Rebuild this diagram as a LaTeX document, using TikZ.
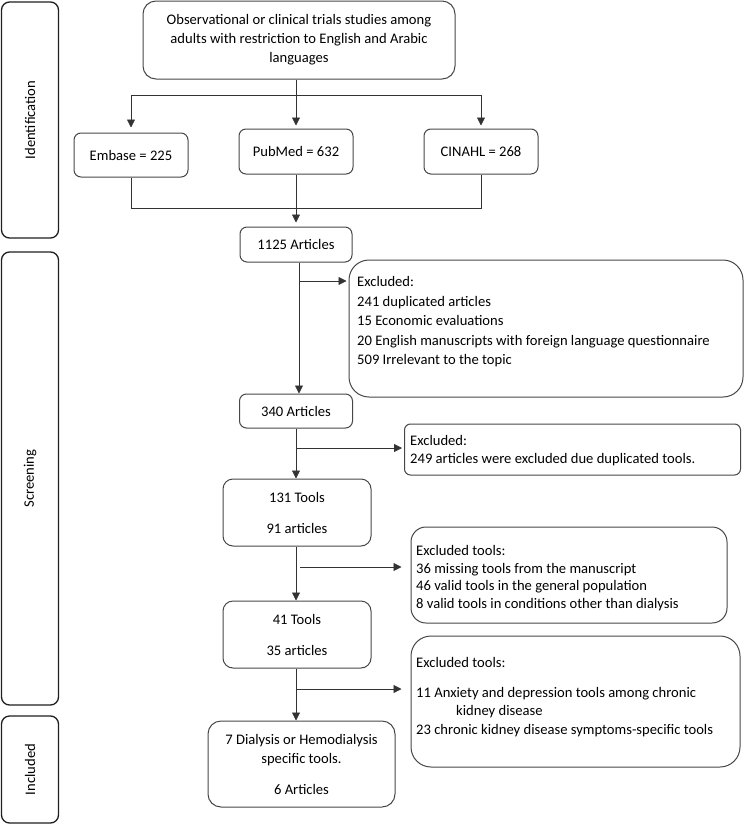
\documentclass[tikz,border=0pt]{standalone}
\usepackage{fontspec}
\setmainfont{Carlito}
\usetikzlibrary{arrows.meta}
\begin{document}
\begin{tikzpicture}[x=1pt,y=-1pt,
  box/.style={draw=black!72, line width=1pt, rounded corners=#1, inner sep=0pt, align=center, font=\fontsize{14.6}{19}\selectfont},
  box/.default=7pt,
  stage/.style={draw=black!88, line width=1.3pt, rounded corners=8pt, inner sep=0pt},
  stagetxt/.style={rotate=90, font=\fontsize{14.6}{16}\selectfont},
  txt/.style={anchor=west, align=left, inner sep=0pt},
  conn/.style={draw=black!80, line width=0.8pt},
  arr/.style={conn, -{Triangle[length=8pt,width=8pt]}}
]
\useasboundingbox (0,0) rectangle (745,825);
% stage boxes
\node[stage, minimum width=57pt, minimum height=236pt] (idb) at (30,120) {};
\node[stagetxt] (idt) at (idb.center) {Identification};
\node[stage, minimum width=57pt, minimum height=453pt] (scb) at (30,478.5) {};
\node[stagetxt] (sct) at (scb.center) {Screening};
\node[stage, minimum width=57pt, minimum height=107pt] (inb) at (30,769.5) {};
\node[stagetxt] (intt) at (inb.center) {Included};

% main flow
\node[box=13pt, minimum width=312pt, minimum height=78pt] (top) at (299,40)
  {Observational or clinical trials studies among\\adults with restriction to English and Arabic\\languages};
\node[box, minimum width=114pt, minimum height=44pt] (emb) at (131,155) {Embase = 225};
\node[box, minimum width=114pt, minimum height=45pt] (pub) at (296,151.5) {PubMed = 632};
\node[box, minimum width=114pt, minimum height=45pt] (cin) at (481,151.5) {CINAHL = 268};
\node[box, minimum width=112pt, minimum height=35pt] (a1125) at (296,244.5) {1125 Articles};
\node[box, minimum width=113pt, minimum height=34pt] (a340) at (296,411) {340 Articles};
\node[box=10pt, minimum width=148pt, minimum height=67pt] (t131) at (297,512.5) {131 Tools\\[12pt]91 articles};
\node[box=10pt, minimum width=148pt, minimum height=67pt] (t41) at (297,634.5) {41 Tools\\[12pt]35 articles};
\node[box=13pt, minimum width=187pt, minimum height=86pt] (fin) at (301.5,764)
  {7 Dialysis or Hemodialysis\\specific tools.\\[12pt]6 Articles};

% exclusion boxes
\node[box=20pt, minimum width=394pt, minimum height=137pt] (ex1) at (546,328.5) {};
\node[txt, font=\fontsize{14.6}{19.5}\selectfont] (ex1t) at (357,322)
  {Excluded:\\241 duplicated articles\\15 Economic evaluations\\20 English manuscripts with foreign language questionnaire\\509 Irrelevant to the topic};
\node[box=6pt, minimum width=336pt, minimum height=51pt] (ex2) at (572.5,449.5) {};
\node[txt, font=\fontsize{14.6}{18}\selectfont] (ex2t) at (410,451)
  {Excluded:\\249 articles were excluded due duplicated tools.};
\node[box=15pt, minimum width=316pt, minimum height=96pt] (ex3) at (569,575) {};
\node[txt, font=\fontsize{14.6}{17.5}\selectfont] (ex3t) at (416,578)
  {Excluded tools:\\36 missing tools from the manuscript\\46 valid tools in the general population\\8 valid tools in conditions other than dialysis};
\node[box=20pt, minimum width=329pt, minimum height=131pt] (ex4) at (575.5,701.5) {};
\node[txt, font=\fontsize{14.6}{18.5}\selectfont] (ex4t) at (416,697)
  {Excluded tools:\\[11pt]11 Anxiety and depression tools among chronic\\\hspace*{40pt}kidney disease\\23 chronic kidney disease symptoms-specific tools};

% connectors
\coordinate (split) at (296,95);
\coordinate (merge) at (296,208);
\draw[conn] (emb.north |- split) -- (cin.north |- split);
\draw[arr, shorten >=5pt] (emb.north |- split) -- (emb.north);
\draw[arr, shorten >=3pt] (cin.north |- split) -- (cin.north);
\draw[arr, shorten >=3pt] (pub.north |- top.south) -- (pub.north);
\draw[conn] (emb.south) -- (emb.south |- merge) -- (cin.south |- merge) -- (cin.south);
\draw[arr, shorten >=4pt] (pub.south) -- (a1125.north);

\coordinate (b1) at (299,281);
\draw[arr] (a1125.south -| b1) -- (a340.north -| b1);
\draw[arr, shorten >=2pt] (b1) -- (b1 -| ex1.west);

\coordinate (b2) at (296,448);
\draw[arr] (a340.south) -- (t131.north -| a340.south);
\draw[arr, shorten >=2pt] (b2) -- (b2 -| ex2.west);

\coordinate (b3) at (300,567);
\draw[arr] (t131.south -| a340.south) -- (t41.north -| a340.south);
\draw[arr, shorten >=9pt] (b3) -- (b3 -| ex3.west);

\coordinate (b4) at (296,689);
\draw[arr] (t41.south -| a340.south) -- (fin.north -| a340.south);
\draw[arr, shorten >=9pt] (b4) -- (b4 -| ex4.west);
\end{tikzpicture}
\end{document}
